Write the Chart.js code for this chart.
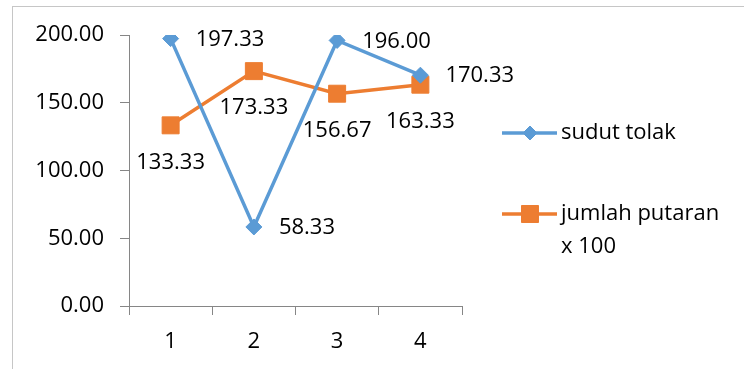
<!DOCTYPE html>
<html>
<head>
<meta charset="utf-8">
<script src="https://cdn.jsdelivr.net/npm/chart.js@4/dist/chart.umd.min.js"></script>
<style>
html,body{margin:0;padding:0;background:#fff;}
#wrap{width:744px;height:369px;position:relative;}
</style>
</head>
<body>
<div id="wrap"><canvas id="c" width="744" height="369"></canvas></div>
<script>
const categories = ['1', '2', '3', '4'];
const sudutTolak = [197.33, 58.33, 196.00, 170.33];
const jumlahPutaran = [133.33, 173.33, 156.67, 163.33];
const seriesNames = ['sudut tolak', ['jumlah putaran', 'x 100']];
const yTicks = [0, 50, 100, 150, 200];

const FONT = '"Open Sans", "Liberation Sans", sans-serif';
const BLUE = '#5B9BD5';
const ORANGE = '#ED7D31';
const AXIS = '#868686';

const framePlugin = {
  id: 'frame',
  beforeDraw(chart) {
    const ctx = chart.ctx;
    ctx.save();
    ctx.fillStyle = '#fff';
    ctx.fillRect(0, 0, chart.width, chart.height);
    ctx.strokeStyle = '#c6c6c6';
    ctx.lineWidth = 1;
    ctx.strokeRect(12.5, 6.5, 900, 500);
    ctx.restore();
  }
};

const labelPlugin = {
  id: 'valueLabels',
  afterDatasetsDraw(chart) {
    const ctx = chart.ctx;
    ctx.save();
    ctx.font = '22px ' + FONT;
    ctx.fillStyle = '#000';
    chart.data.datasets.forEach((ds, di) => {
      const meta = chart.getDatasetMeta(di);
      meta.data.forEach((pt, i) => {
        const txt = ds.data[i].toFixed(2);
        if (di === 0) {
          ctx.textAlign = 'left';
          ctx.textBaseline = 'middle';
          ctx.fillText(txt, pt.x + 25, pt.y + 1);
        } else {
          ctx.textAlign = 'center';
          ctx.textBaseline = 'middle';
          ctx.fillText(txt, pt.x, pt.y + 37);
        }
      });
    });
    ctx.restore();
  }
};

const legendPlugin = {
  id: 'customLegend',
  afterDraw(chart) {
    const ctx = chart.ctx;
    ctx.save();
    const rows = [133, 214];
    chart.data.datasets.forEach((ds, di) => {
      const y = rows[di];
      ctx.strokeStyle = ds.borderColor;
      ctx.lineWidth = 3.5;
      ctx.beginPath();
      ctx.moveTo(502, y);
      ctx.lineTo(557, y);
      ctx.stroke();
      ctx.fillStyle = ds.backgroundColor;
      ctx.strokeStyle = ds.borderColor;
      ctx.lineWidth = 1;
      Chart.helpers.drawPoint(ctx, {pointStyle: ds.pointStyle, radius: di === 0 ? 7 : 12, borderWidth: 1}, 530, y);
      ctx.font = '22px ' + FONT;
      ctx.fillStyle = '#000';
      ctx.textAlign = 'left';
      ctx.textBaseline = 'middle';
      const lines = Array.isArray(seriesNames[di]) ? seriesNames[di] : [seriesNames[di]];
      lines.forEach((t, k) => ctx.fillText(t, 561, y + k * 33));
    });
    ctx.restore();
  }
};

new Chart(document.getElementById('c'), {
  type: 'line',
  data: {
    labels: categories,
    datasets: [
      {
        label: 'sudut tolak',
        data: sudutTolak,
        borderColor: BLUE,
        backgroundColor: BLUE,
        borderWidth: 3.5,
        pointStyle: 'rectRot',
        pointRadius: 8,
        pointBorderWidth: 1,
        tension: 0
      },
      {
        label: 'jumlah putaran x 100',
        data: jumlahPutaran,
        borderColor: ORANGE,
        backgroundColor: ORANGE,
        borderWidth: 3.5,
        pointStyle: 'rect',
        pointRadius: 12,
        pointBorderWidth: 1,
        tension: 0
      }
    ]
  },
  options: {
    responsive: false,
    animation: false,
    devicePixelRatio: 1,
    layout: { padding: { left: 0, top: 35, right: 282, bottom: 0 } },
    plugins: {
      legend: { display: false },
      tooltip: { enabled: false }
    },
    scales: {
      x: {
        offset: true,
        grid: { display: true, drawOnChartArea: false, drawTicks: true, tickLength: 9, color: AXIS, offset: true },
        border: { display: true, color: AXIS, width: 1 },
        ticks: { color: '#000', font: { family: FONT, size: 22 }, padding: 14, maxRotation: 0 },
        afterFit(s) { s.height = 63; }
      },
      y: {
        min: 0,
        max: 200,
        afterBuildTicks(s) { s.ticks = yTicks.map(v => ({ value: v })); },
        grid: { display: true, drawOnChartArea: false, drawTicks: true, tickLength: 9, color: AXIS },
        border: { display: true, color: AXIS, width: 1 },
        ticks: { color: '#000', font: { family: FONT, size: 22 }, padding: 16, callback: v => Number(v).toFixed(2) },
        afterFit(s) { s.width = 129; }
      }
    }
  },
  plugins: [framePlugin, labelPlugin, legendPlugin]
});
</script>
</body>
</html>
